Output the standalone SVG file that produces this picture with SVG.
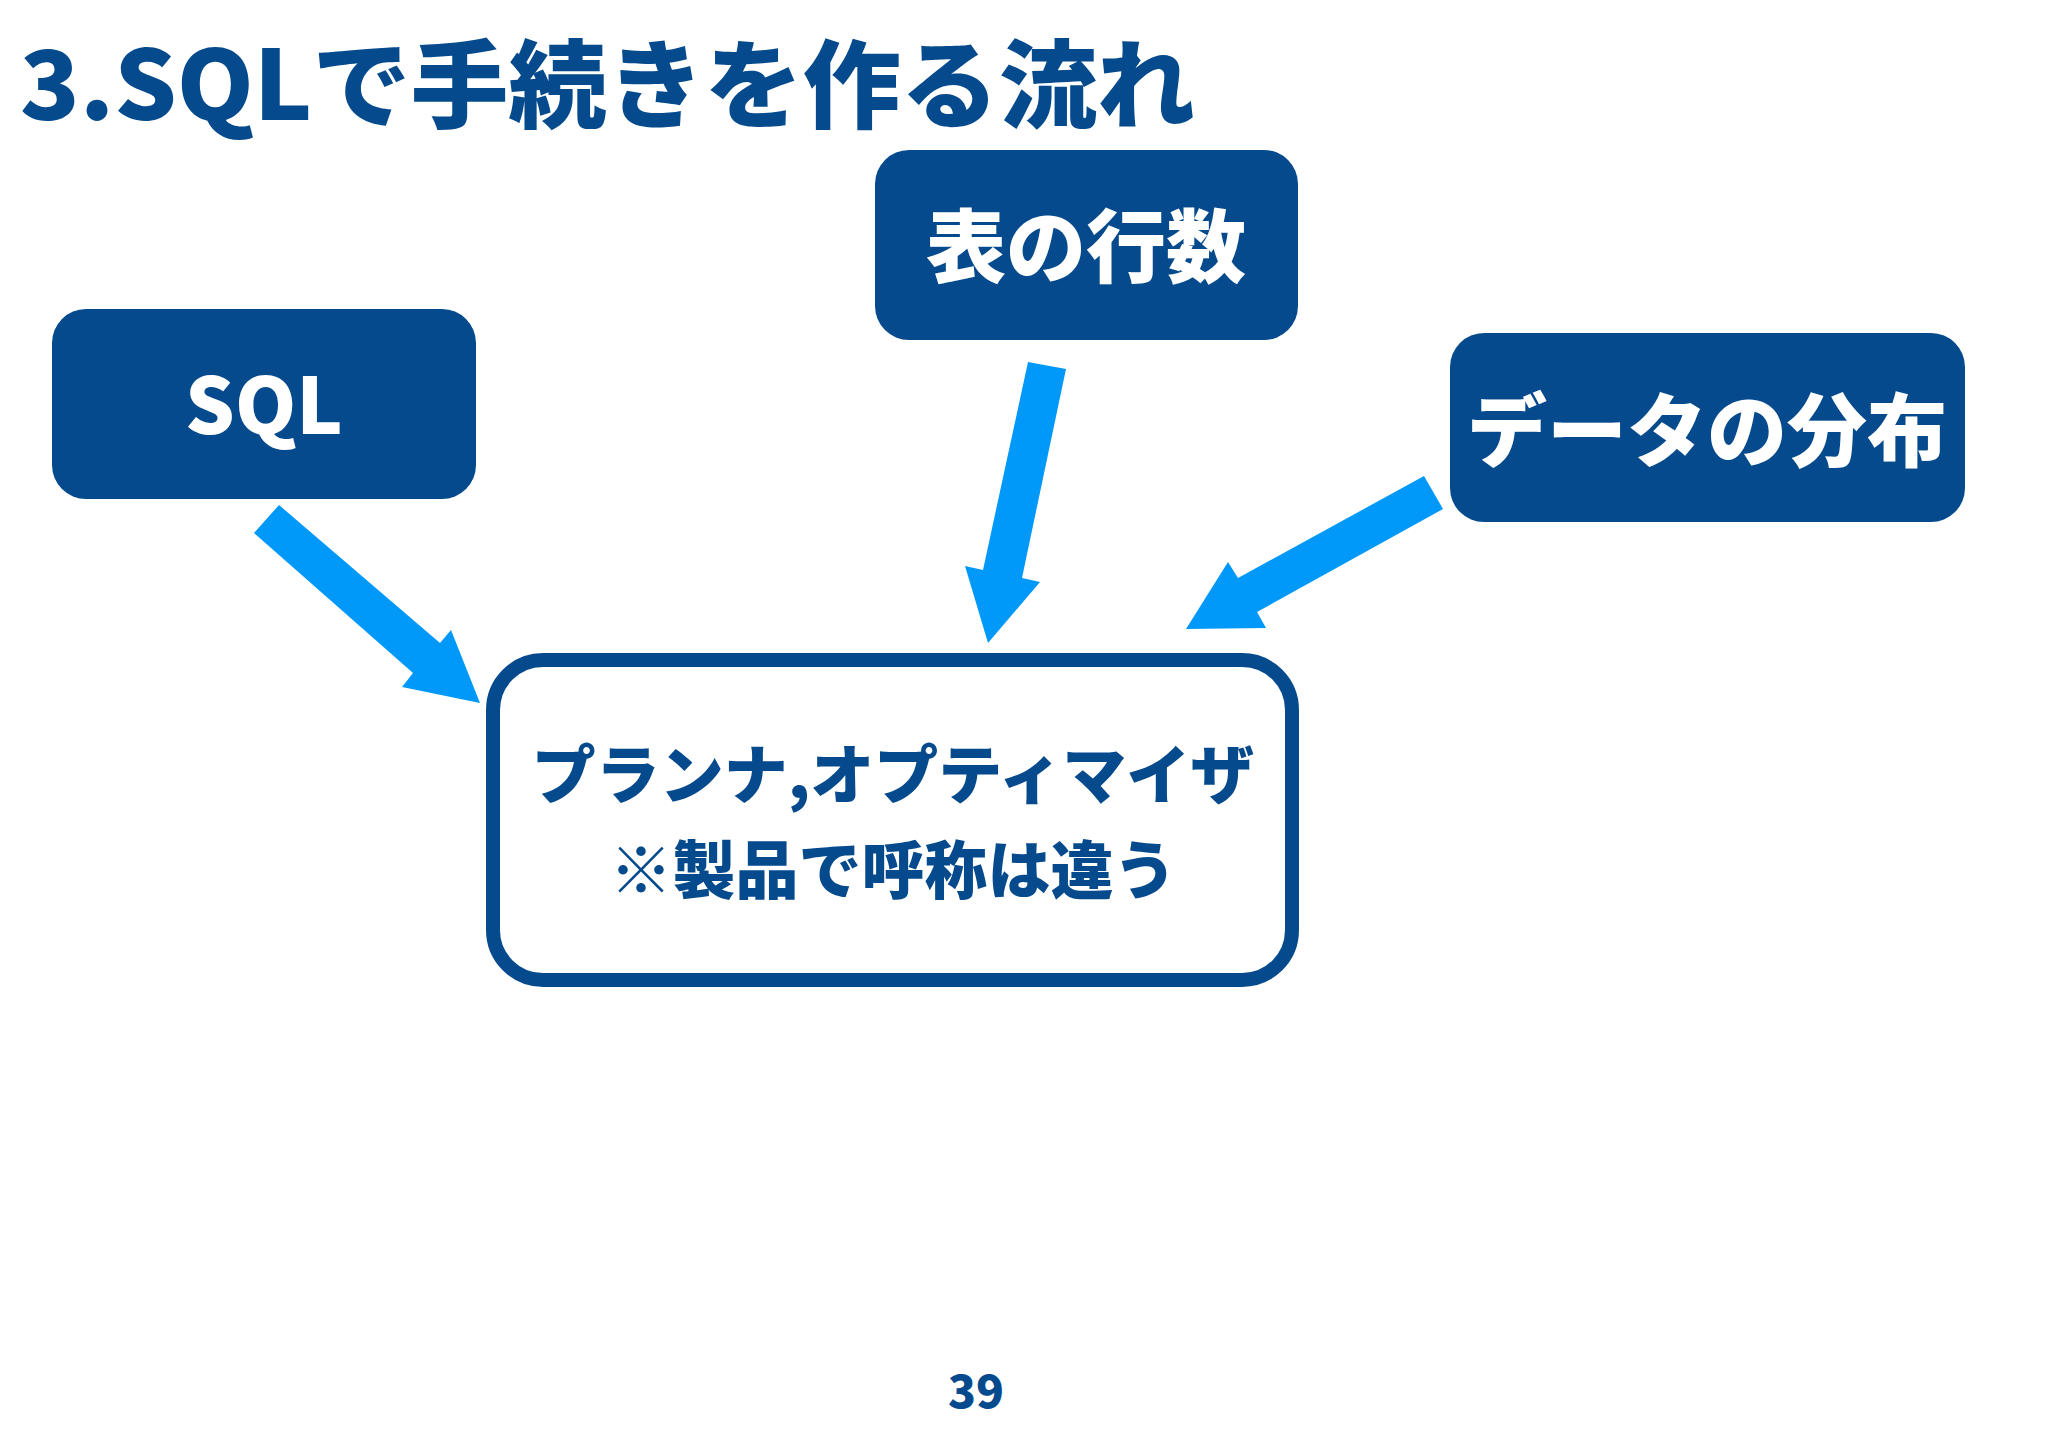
<svg xmlns="http://www.w3.org/2000/svg" width="2048" height="1447" viewBox="0 0 2048 1447">
<style>
.jp{font-family:"Noto Sans CJK JP","Noto Sans",sans-serif;font-weight:900}
.title{fill:#054A8C;font-size:96px}
.filled{fill:#054A8C}
.white{fill:#FFFFFF}
.frame{fill:#FFFFFF;stroke:#054A8C;stroke-width:14}
.arrow{fill:#0099FA}
.btext{fill:#FFFFFF;text-anchor:middle}
.mtext{fill:#054A8C;text-anchor:middle}
</style>
<rect width="2048" height="1447" fill="#FFFFFF"/>
<text id="title" class="jp title" x="20" y="120" textLength="1175" lengthAdjust="spacingAndGlyphs">3.SQLで手続きを作る流れ</text>
<g id="connectors">
<polygon class="arrow" points="254,533 279,505 440,643 451,630 480,703 402,687 413,673"/>
<polygon class="arrow" points="1028,362 1066,369 1022,578 1040,582 988,643 965,566 983,570"/>
<polygon class="arrow" points="1424,476 1443,509 1257,612 1266,628 1186,629 1228,562 1238,578"/>
</g>
<g id="node-sql">
<rect class="filled" x="52" y="309" width="424" height="190" rx="34"/>
<text class="jp btext" x="264" y="434" font-size="78">SQL</text>
</g>
<g id="node-rows">
<rect class="filled" x="875" y="150" width="423" height="190" rx="34"/>
<text class="jp btext" x="1086" y="276" font-size="80">表の行数</text>
</g>
<g id="node-dist">
<rect class="filled" x="1450" y="333" width="515" height="189" rx="34"/>
<text class="jp btext" x="1707" y="460" font-size="80">データの分布</text>
</g>
<g id="node-planner">
<rect class="frame" x="493" y="660" width="799" height="320" rx="50"/>
<text class="jp mtext" x="893" y="798" font-size="64">プランナ,オプティマイザ</text>
<text class="jp mtext" x="893" y="893" font-size="63">※製品で呼称は違う</text>
</g>
<text id="page" class="jp" x="976" y="1408" font-size="46" fill="#054A8C" text-anchor="middle">39</text>
</svg>
